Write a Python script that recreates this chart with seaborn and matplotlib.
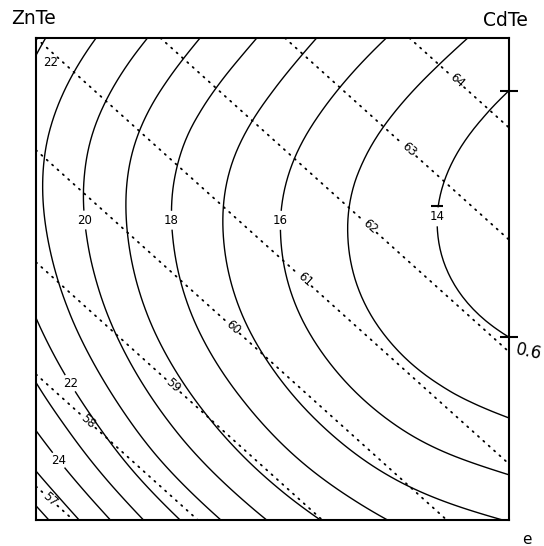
import numpy as np
import matplotlib
matplotlib.use("Agg")
import matplotlib.pyplot as plt
import matplotlib.tri as mtri
import matplotlib.transforms as mtransforms
import seaborn as sns

# Composition square of Zn(1-x)Cd(x)Se(1-y)Te(y):
# x runs ZnTe/ZnSe (left) -> CdTe/CdSe (right), y runs Se (bottom) -> Te (top)
x_nodes = [0.0, 0.2, 0.4, 0.6, 0.8, 1.0]
y_nodes = [0.0, 0.1, 0.2, 0.4, 0.6, 0.8, 1.0]

# Solid contours: energy gap (x10 eV) at the grid nodes, one list per row of y
gap_y00 = [26.43, 23.38, 20.90, 19.01, 17.69, 16.96]
gap_y01 = [25.02, 22.09, 19.72, 17.90, 16.64, 15.94]
gap_y02 = [23.84, 21.03, 18.75, 17.00, 15.78, 15.09]
gap_y04 = [22.12, 19.54, 17.43, 15.79, 14.62, 13.91]
gap_y06 = [21.27, 18.92, 16.96, 15.39, 14.22, 13.43]
gap_y08 = [21.30, 19.16, 17.33, 15.80, 14.57, 13.65]
gap_y10 = [22.20, 20.33, 18.55, 16.95, 15.64, 14.56]
gap_levels = [14, 15, 16, 17, 18, 19, 20, 21, 22, 23, 24, 25, 26]

# Dotted contours: lattice constant (x10 Angstrom) of the four corner binaries
corner_x = [0.0, 1.0]
corner_y = [0.0, 1.0]
lattice_se = [56.7, 60.5]   # ZnSe, CdSe
lattice_te = [61.0, 64.8]   # ZnTe, CdTe
lattice_levels = [57, 58, 59, 60, 61, 62, 63, 64]

sns.set_theme(style="white")
plt.rcParams["font.family"] = ["DejaVu Sans"]
plt.rcParams["text.color"] = "black"

fig = plt.figure(figsize=(5.44, 5.46), dpi=100)
fig.patch.set_facecolor("white")
ax = fig.add_axes([36 / 544, 1 - 520 / 546, 473 / 544, 482 / 546])
ax.set_facecolor("white")

# energy-gap field on a smooth cubic refinement of the node grid
gx, gy = np.meshgrid(x_nodes, y_nodes)
gz = np.array([gap_y00, gap_y01, gap_y02, gap_y04, gap_y06, gap_y08, gap_y10])
tri = mtri.Triangulation(gx.ravel(), gy.ravel())
interp = mtri.CubicTriInterpolator(tri, gz.ravel(), kind="min_E")
refiner = mtri.UniformTriRefiner(tri)
tri_f, z_f = refiner.refine_field(gz.ravel(), triinterpolator=interp, subdiv=4)
cs_gap = ax.tricontour(tri_f, z_f, levels=gap_levels, colors="black",
                       linewidths=1.0)

# ends of the lowest solid contour on the CdTe-CdSe edge (before labelling)
seg14 = max(cs_gap.allsegs[0], key=len)
ends14 = seg14[[0, -1]]

# lattice-constant field (Vegard's law between the corners)
lat = np.array([lattice_se, lattice_te])
cs_lat = ax.contour(corner_x, corner_y, lat, levels=lattice_levels,
                    colors="black", linewidths=1.3)
cs_lat.set_linestyle((0, (0.7, 3.3)))
cs_lat.set_capstyle("round")

# inline level labels
gap_lbl = ax.clabel(cs_gap, fmt="%d", fontsize=8.5,
                    inline=True, inline_spacing=2,
                    manual=[(0.099, 0.622), (0.288, 0.622), (0.510, 0.622),
                            (0.848, 0.629), (0.066, 0.280), (0.040, 0.118)])
for t in gap_lbl:
    t.set_rotation(0)
ax.text(0.030, 0.950, f"{gap_levels[8]}", fontsize=8.5, ha="center",
        va="center")

ax.clabel(cs_lat, fmt="%d", fontsize=8.5, inline=True, inline_spacing=2,
          manual=[(0.892, 0.913), (0.789, 0.768), (0.704, 0.608),
                  (0.562, 0.492), (0.410, 0.394), (0.290, 0.278),
                  (0.104, 0.197), (0.025, 0.037)])

# bars marking the 14 contour: both edge ends and just above its label
ax.plot(ends14[:, 0], ends14[:, 1], linestyle="none", marker="_", ms=13,
        mew=1.5, color="black", clip_on=False)
lbl14 = [t for t in gap_lbl if t.get_text() == f"{gap_levels[0]}"][0]
above = mtransforms.offset_copy(ax.transData, fig=fig, y=8, units="points")
ax.plot(*lbl14.get_position(), linestyle="none", marker="_", ms=8, mew=1.5,
        color="black", transform=above)

ax.set_xlim(0, 1)
ax.set_ylim(0, 1)
ax.set_xticks([])
ax.set_yticks([])
for s in ax.spines.values():
    s.set_visible(True)
    s.set_color("black")
    s.set_linewidth(1.5)

fig.text(11 / 544, 1 - 19 / 546, "ZnTe", fontsize=13.5, ha="left",
         va="center", color="black")
fig.text(505 / 544, 1 - 20 / 546, "CdTe", fontsize=13.5, ha="center",
         va="center", color="black")
fig.text(527 / 544, 1 - 540 / 546, "e", fontsize=11, ha="center",
         va="center", color="black")
fig.text(514 / 544, 1 - 352 / 546, "0.6", fontsize=12, ha="left",
         va="center", rotation=-12, color="black")

fig.savefig("out.png", dpi=100, facecolor="white")
